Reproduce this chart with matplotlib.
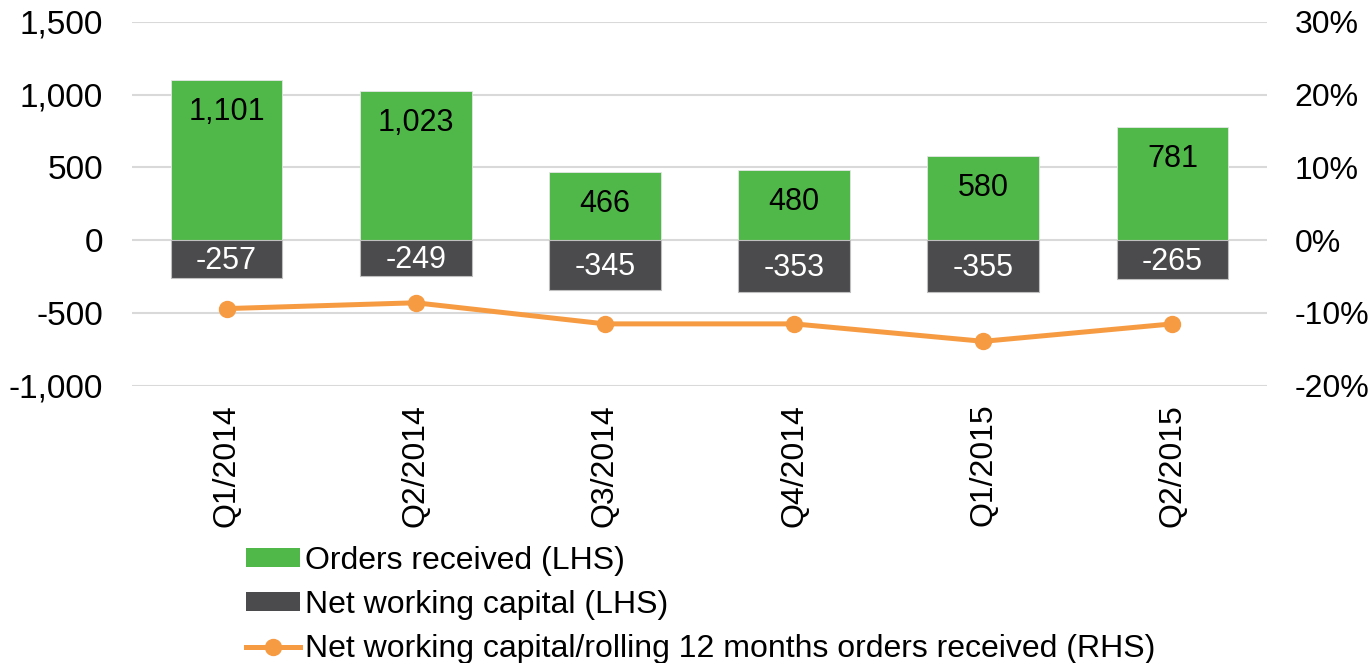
import matplotlib
matplotlib.use("Agg")
import matplotlib.pyplot as plt
from matplotlib.ticker import FuncFormatter, MultipleLocator
from matplotlib.lines import Line2D
from matplotlib.patches import Patch
import numpy as np

plt.rcParams['font.family'] = ['Liberation Sans', 'DejaVu Sans']

categories = ["Q1/2014", "Q2/2014", "Q3/2014", "Q4/2014", "Q1/2015", "Q2/2015"]
orders_received = [1101, 1023, 466, 480, 580, 781]
net_working_capital = [-257, -249, -345, -353, -355, -265]
nwc_ratio_pct = [-9.4, -8.6, -11.5, -11.5, -13.9, -11.5]

GREEN = "#50B848"
DARK = "#4B4B4D"
ORANGE = "#F79B43"
GRID = "#D9D9D9"

fig = plt.figure(figsize=(13.72, 6.63), dpi=100)
ax = fig.add_axes([132/1372, 1 - 385.7/663, (1267-132)/1372, (385.7-22)/663])
x = np.arange(len(categories))
w = 0.59

ax.bar(x, orders_received, width=w, color=GREEN, edgecolor="#E6E6E6", linewidth=0.6, zorder=3)
ax.bar(x, net_working_capital, width=w, color=DARK, edgecolor="#BFBFBF", linewidth=0.8, zorder=3)

ax.set_ylim(-1000, 1500)
ax.set_xlim(-0.5, len(categories) - 0.5)
ax.yaxis.set_major_locator(MultipleLocator(500))
ax.yaxis.set_major_formatter(FuncFormatter(lambda v, p: f"{int(v):,}"))
ax.grid(axis='y', color=GRID, linewidth=1.5, zorder=1)
ax.set_axisbelow(True)
for s in ax.spines.values():
    s.set_visible(False)
ax.tick_params(axis='both', length=0, colors='black')
ax.tick_params(axis='y', labelsize=24, pad=21)
ax.set_xticks(x)
ax.set_xticklabels(categories, rotation=90, fontsize=23)
ax.tick_params(axis='x', pad=13)

for xi, v in zip(x, orders_received):
    ax.annotate(f"{v:,}", (xi, v), xytext=(0, -23), textcoords="offset points",
                ha='center', va='center', fontsize=22, color='black', zorder=5)
for xi, v in zip(x, net_working_capital):
    ax.annotate(f"{v:,}", (xi, v / 2), xytext=(0, -1.5), textcoords="offset points",
                ha='center', va='center', fontsize=22, color='white', zorder=5)

ax2 = ax.twinx()
ax2.set_ylim(-20, 30)
ax2.yaxis.set_major_locator(MultipleLocator(10))
ax2.yaxis.set_major_formatter(FuncFormatter(lambda v, p: f"{int(v)}%"))
for s in ax2.spines.values():
    s.set_visible(False)
ax2.tick_params(axis='y', length=0, labelsize=23, pad=20)
ax2.plot(x, nwc_ratio_pct, color=ORANGE, linewidth=3.6, marker='o', markersize=11.5, zorder=6)

handles = [
    Patch(facecolor=GREEN, edgecolor='none'),
    Patch(facecolor=DARK, edgecolor='none'),
    Line2D([0], [0], color=ORANGE, linewidth=3.6, marker='o', markersize=11.5),
]
labels = ["Orders received (LHS)", "Net working capital (LHS)",
          "Net working capital/rolling 12 months orders received (RHS)"]
fig.legend(handles, labels, loc='upper left', bbox_to_anchor=(246/1372, 1 - 546/663),
           frameon=False, fontsize=23, handlelength=1.7, handleheight=0.52,
           handletextpad=0.15, labelspacing=0.44, borderaxespad=0, borderpad=0)

fig.savefig("out.png", dpi=100)
